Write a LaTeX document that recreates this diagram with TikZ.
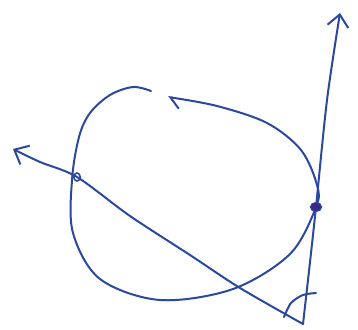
\documentclass[tikz,border=0pt]{standalone}
\usetikzlibrary{arrows.meta}
\definecolor{ink}{RGB}{42,72,158}
\definecolor{inkdark}{RGB}{55,40,140}
\tikzset{
  pen/.style={draw=ink, line width=2pt, line cap=round, line join=round},
  vtip/.style={-{Straight Barb[length=12pt,width=21pt,line width=2pt]}},
}
\begin{document}
\begin{tikzpicture}[x=1pt,y=-1pt]
\useasboundingbox (0,0) rectangle (358,329);
% named points
\coordinate (V) at (303,324);
\coordinate (T) at (340,13);
\coordinate (L) at (13,149);
\coordinate (P) at (77,177);
\coordinate (Q) at (316,207);
% vertical ray
\draw[pen,vtip] plot[smooth] coordinates {(V) (310,262) (Q) (327,100) (T)};
% slanted ray
\draw[pen,vtip] plot[smooth] coordinates {(V) (240,288) (190,255) (130,216) (P) (40,162) (L)};
% loop with arrow
\draw[pen,-{Straight Barb[harpoon,length=10pt,width=20pt,line width=2pt]}]
  plot[smooth,tension=0.55] coordinates {(151,91) (133,87) (110,95) (90,113) (79,137) (72,180) (73,233) (100,279) (160,300) (233,289) (290,254) (Q) (317,185) (301,150) (267,123) (217,106) (168,97)};
% angle arc
\draw[pen] plot[smooth] coordinates {(284,317) (291,303) (303,295) (316,293)};
% markers
\draw[ink, line width=1.6pt] (P) ellipse (3.2pt and 4pt);
\fill[inkdark] (Q) ellipse (5.5pt and 4.5pt);
\draw[ink, line width=1.2pt] (Q) ellipse (5.5pt and 4.5pt);
\end{tikzpicture}
\end{document}
